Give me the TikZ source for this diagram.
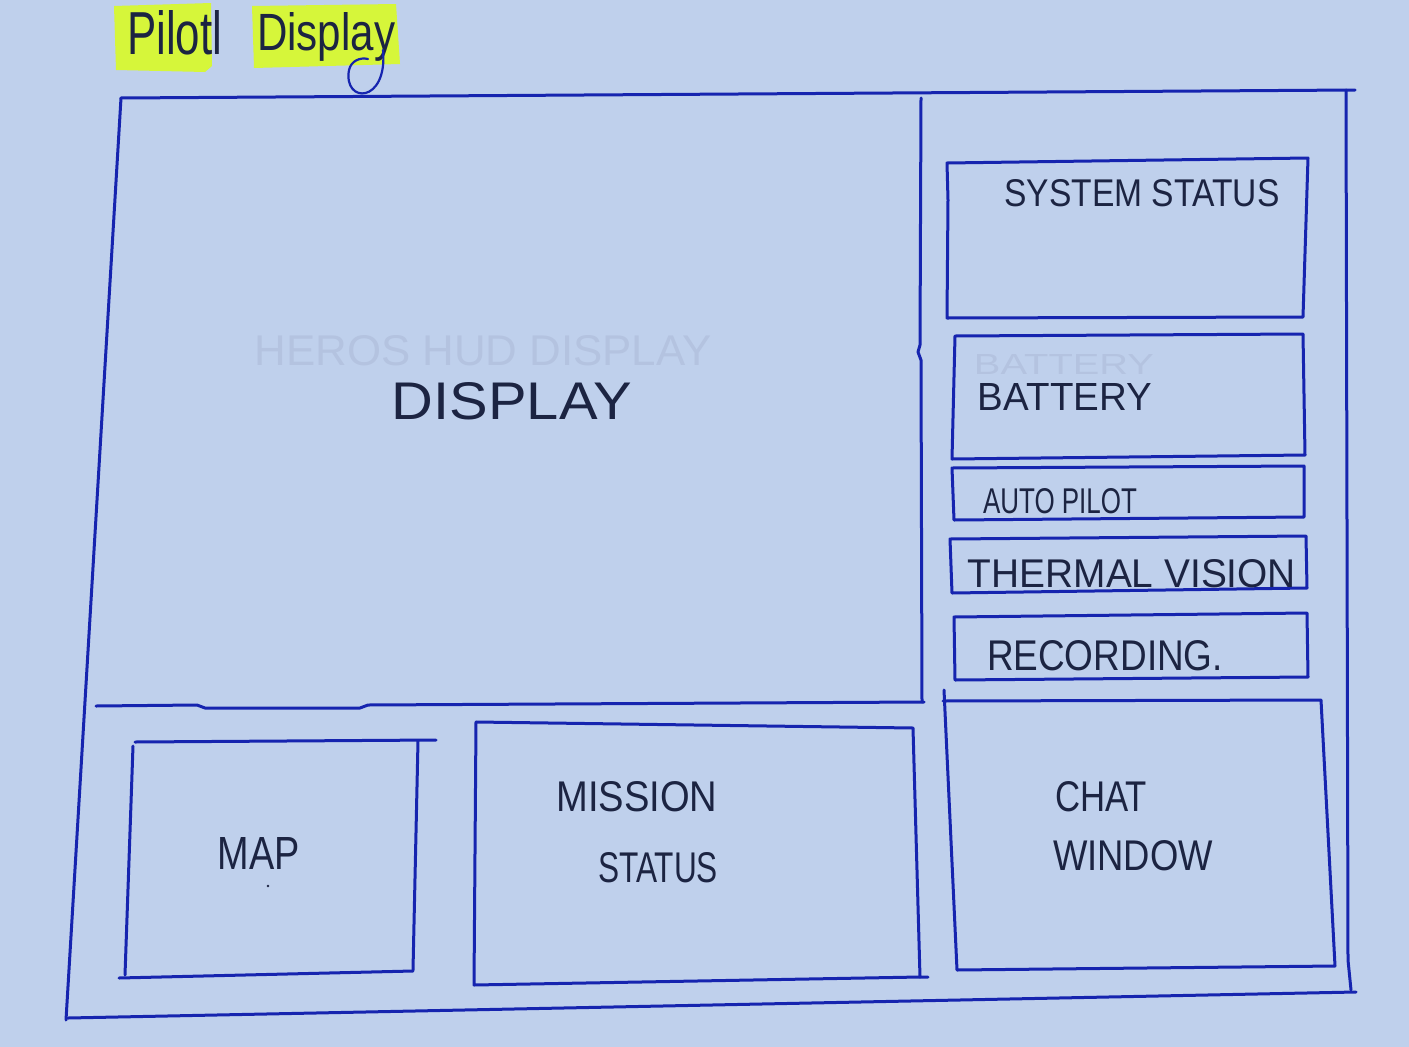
\documentclass[tikz,border=0pt]{standalone}
\usepackage{fontspec}
\setmainfont{Liberation Sans}
\usepackage{graphicx}
\definecolor{paper}{RGB}{191,208,236}
\definecolor{ink}{RGB}{22,36,175}
\definecolor{pen}{RGB}{28,36,66}
\definecolor{hl}{RGB}{214,246,58}
\definecolor{faint}{RGB}{180,195,224}
\newcommand{\hw}[3]{\resizebox{#1pt}{#2pt}{#3}}
\tikzset{
  frame/.style={draw=ink, line width=3pt, line cap=round, line join=round},
  lbl/.style={text=pen, inner sep=0pt, anchor=center},
  ghost/.style={text=faint, inner sep=0pt, anchor=center},
  marker/.style={fill=hl}
}
\begin{document}
\begin{tikzpicture}[x=1pt,y=-1pt]
\fill[paper] (0,0) rectangle (1409,1047);
\useasboundingbox (0,0) rectangle (1409,1047);

% title highlights
\fill[marker] (114,6) -- (211,3) -- (212,66) -- (205,72) -- (116,70) -- cycle;
\fill[marker] (252,6) -- (396,4) -- (400,64) -- (254,68) -- cycle;
\node[text=pen, inner sep=0pt, anchor=base west] (tA) at (127,54) {\hw{95}{44}{Pilotl}};
\node[text=pen, inner sep=0pt, anchor=base west] (tB) at (257,50) {\hw{138}{38}{Display}};
\draw[draw=ink, line width=2.2pt, line cap=round] (383,50) .. controls (388,104) and (343,104) .. (349,70) .. controls (351,61) and (360,57) .. (368,59);

% outer frame
\coordinate (oTL) at (121,98);
\coordinate (oTR) at (1346,90);
\coordinate (oBL) at (66,1020);
\coordinate (oBR) at (1351,990);
\draw[frame] (oTL) -- (1355,90);
\draw[frame] (oTL) -- (oBL);
\draw[frame] (oTR) -- (1348,960) -- (oBR);
\draw[frame] (68,1018) -- (1356,992);

% main display area dividers
\draw[frame] (921,98) -- (920,345) -- (918,352) -- (921,360) -- (922,702);
\draw[frame] (96,706) -- (197,705) -- (205,708) -- (360,708) -- (368,705) -- (924,702);

% right column panels
\draw[frame] (947,163) -- (1308,158) -- (1303,317) -- (947,318) -- (948,200) -- cycle;
\draw[frame] (955,336) -- (1303,334) -- (1305,455) -- (952,459) -- cycle;
\draw[frame] (952,468) -- (1304,466) -- (1304,517) -- (954,520) -- cycle;
\draw[frame] (950,539) -- (1306,536) -- (1307,588) -- (952,593) -- cycle;
\draw[frame] (954,617) -- (1307,613) -- (1308,677) -- (955,680) -- cycle;

% chat window
\draw[frame] (944,690) -- (957,970) -- (1335,966) -- (1321,700) -- (943,701);

% mission status
\draw[frame] (476,722) -- (913,728) -- (920,977) -- (928,977);
\draw[frame] (476,722) -- (474,985) -- (920,977);

% map
\draw[frame] (135,742) -- (436,740);
\draw[frame] (133,746) -- (125,975);
\draw[frame] (418,741) -- (413,970);
\draw[frame] (119,978) -- (413,971);

% ghost (erased pencil) text
\node[ghost] (g1) at (483,351) {\hw{457}{30}{HEROS HUD DISPLAY}};
\node[ghost] (g2) at (1064,364) {\hw{180}{20}{BATTERY}};

% labels
\node[lbl] (disp) at (512,401) {\hw{240}{37}{DISPLAY}};
\node[lbl] (sys) at (1142,193) {\hw{275}{27}{SYSTEM STATUS}};
\node[lbl] (bat) at (1065,397) {\hw{174}{27}{BATTERY}};
\node[lbl] (ap) at (1060,501) {\hw{154}{25}{AUTO PILOT}};
\node[lbl] (tv) at (1132,574) {\hw{328}{28}{THERMAL VISION}};
\node[lbl] (rec) at (1105,656) {\hw{236}{30}{RECORDING.}};
\node[lbl] (map) at (259,853) {\hw{82}{32}{MAP}};
\fill[pen] (268,886) circle (1.3);
\node[lbl] (ms1) at (637,797) {\hw{161}{30}{MISSION}};
\node[lbl] (ms2) at (658,868) {\hw{120}{30}{STATUS}};
\node[lbl] (cw1) at (1101,797) {\hw{92}{30}{CHAT}};
\node[lbl] (cw2) at (1133,856) {\hw{160}{30}{WINDOW}};
\end{tikzpicture}
\end{document}
